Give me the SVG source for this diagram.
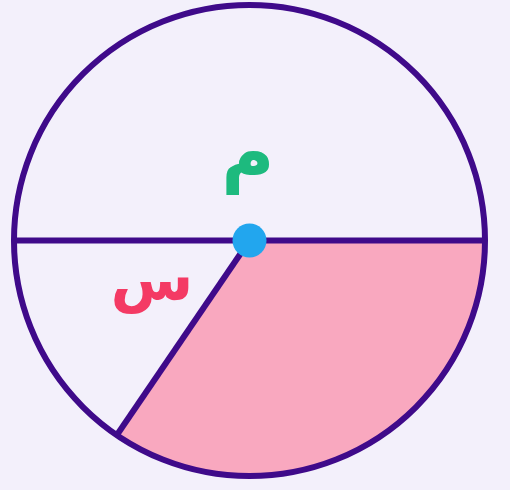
<svg xmlns="http://www.w3.org/2000/svg" width="510" height="490" viewBox="0 0 510 490">
<style>
.ln{stroke:#3F0A8A;stroke-width:6;fill:none;stroke-linecap:butt}
.lbl{font-family:"DejaVu Sans",sans-serif;font-weight:bold;text-anchor:middle}
</style>
<rect width="510" height="490" fill="#F3F0FB"/>
<g id="sector">
<path d="M249.5 240.5 L485 240.5 A235.5 235.5 0 0 1 116.9 435 Z" fill="#F9A8BF"/>
</g>
<g id="connectors">
<circle class="ln" cx="249.5" cy="240.5" r="235.5"/>
<line class="ln" x1="14" y1="240.5" x2="485" y2="240.5"/>
<line class="ln" x1="249.5" y1="240.5" x2="116.9" y2="435"/>
</g>
<g id="center">
<circle cx="249.5" cy="240.5" r="17" fill="#22A6EE"/>
</g>
<g id="label-m">
<text class="lbl" x="248" y="178" font-size="72" fill="#1DBA7E">م</text>
</g>
<g id="label-s">
<text class="lbl" x="152" y="300" font-size="60" fill="#F43A64">س</text>
</g>
</svg>
